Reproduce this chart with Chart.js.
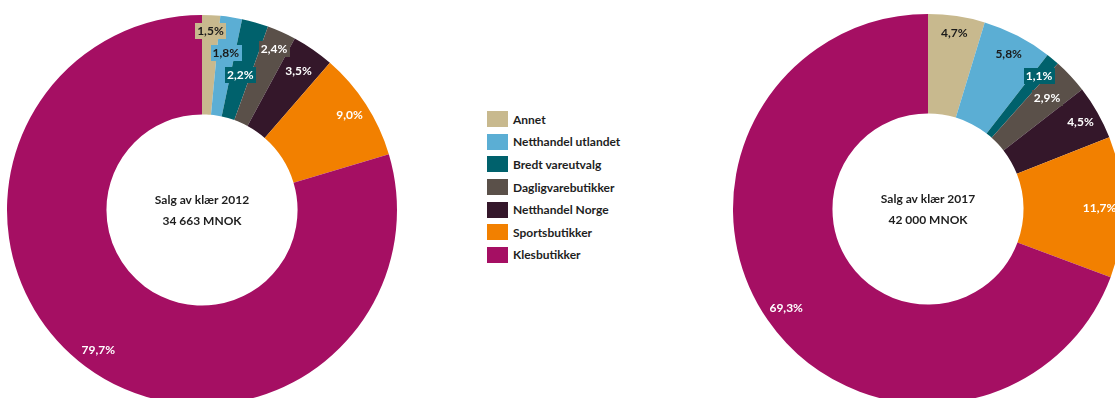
<!DOCTYPE html>
<html lang="no">
<head>
<meta charset="utf-8">
<script src="https://cdn.jsdelivr.net/npm/chart.js@4.4.1/dist/chart.umd.min.js"></script>
<style>
  html, body { margin:0; padding:0; background:#fff; }
  #wrap { position:relative; width:1115px; height:398px; overflow:hidden; }
  canvas { position:absolute; }
  #c2012 { left:2px; top:10px; }
  #c2017 { left:728px; top:9px; }
  #legend { position:absolute; left:487px; top:108px; font:bold 12px Lato, "Open Sans", sans-serif; color:#1e1e1e; }
  .row { display:flex; align-items:center; height:22.6px; }
  .sw { width:21px; height:16px; margin-right:5px; }
</style>
</head>
<body>
<div id="wrap">
  <canvas id="c2012" width="400" height="400"></canvas>
  <div id="legend"></div>
  <canvas id="c2017" width="400" height="400"></canvas>
</div>
<script>
const $ = s => document.querySelector(s);

// kategorier og andeler (%)
const kategorier = ['Annet','Netthandel utlandet','Bredt vareutvalg','Dagligvarebutikker','Netthandel Norge','Sportsbutikker','Klesbutikker'];
const andel2012 = [1.5, 1.8, 2.2, 2.4, 3.5, 9.0, 79.7];
const andel2017 = [4.7, 5.8, 1.1, 2.9, 4.5, 11.7, 69.3];
const tittel2012 = ['Salg av klær 2012', '34 663 MNOK'];
const tittel2017 = ['Salg av klær 2017', '42 000 MNOK'];

const farger  = ['#C8B98E','#5BAED4','#00616C','#5A5049','#34172A','#F28000','#A50F63'];
const tekstFarger = ['#1a1a1a','#1a1a1a','#fff','#fff','#fff','#fff','#fff'];

// etikettavstand fra sentrum, andel av ytre radius
const etikettR2012 = [0.92, 0.815, 0.72, 0.905, 0.87, 0.9, 0.89];
const etikettR2017 = [0.915, 0.9, 0.89, 0.835, 0.9, 0.88, 0.885];

const FONT = 'bold 12px Lato, "Open Sans", sans-serif';
const fmt = v => v.toFixed(1).replace('.', ',') + '%';

const etiketter = {
  id:'etiketter',
  afterDatasetsDraw(chart, args, opts){
    const ctx = chart.ctx;
    const meta = chart.getDatasetMeta(0);
    const data = chart.data.datasets[0].data;
    ctx.save();
    ctx.font = FONT;
    ctx.textAlign = 'center';
    ctx.textBaseline = 'middle';
    meta.data.forEach((arc, i) => {
      const p = arc.getProps(['x','y','startAngle','endAngle','outerRadius']);
      const mid = (p.startAngle + p.endAngle) / 2;
      const r = p.outerRadius * opts.radius[i];
      const x = p.x + Math.cos(mid) * r;
      const y = p.y + Math.sin(mid) * r;
      const txt = fmt(data[i]);
      const w = ctx.measureText(txt).width + 4;
      ctx.fillStyle = farger[i];
      ctx.fillRect(Math.round(x - w/2), Math.round(y - 8), Math.round(w), 16);
      ctx.fillStyle = tekstFarger[i];
      ctx.fillText(txt, x, y + 0.5);
    });
    // tekst i midten
    ctx.fillStyle = '#1e1e1e';
    ctx.fillText(opts.title[0], meta.data[0].x, meta.data[0].y - 10);
    ctx.fillText(opts.title[1], meta.data[0].x, meta.data[0].y + 11);
    ctx.restore();
  }
};

function lagDonut(id, verdier, radius, title){
  return new Chart($(id), {
    type:'doughnut',
    data:{ labels:kategorier, datasets:[{ data:verdier, backgroundColor:farger, borderWidth:0 }] },
    options:{
      responsive:false, animation:false, cutout:'49%',
      layout:{ padding:5 },
      plugins:{ legend:{ display:false }, tooltip:{ enabled:false }, etiketter:{ radius, title } }
    },
    plugins:[etiketter]
  });
}

lagDonut('#c2012', andel2012, etikettR2012, tittel2012);
lagDonut('#c2017', andel2017, etikettR2017, tittel2017);

// felles forklaring
$('#legend').innerHTML = kategorier.map((k, i) =>
  `<div class="row"><span class="sw" style="background:${farger[i]}"></span>${k}</div>`).join('');
</script>
</body>
</html>
